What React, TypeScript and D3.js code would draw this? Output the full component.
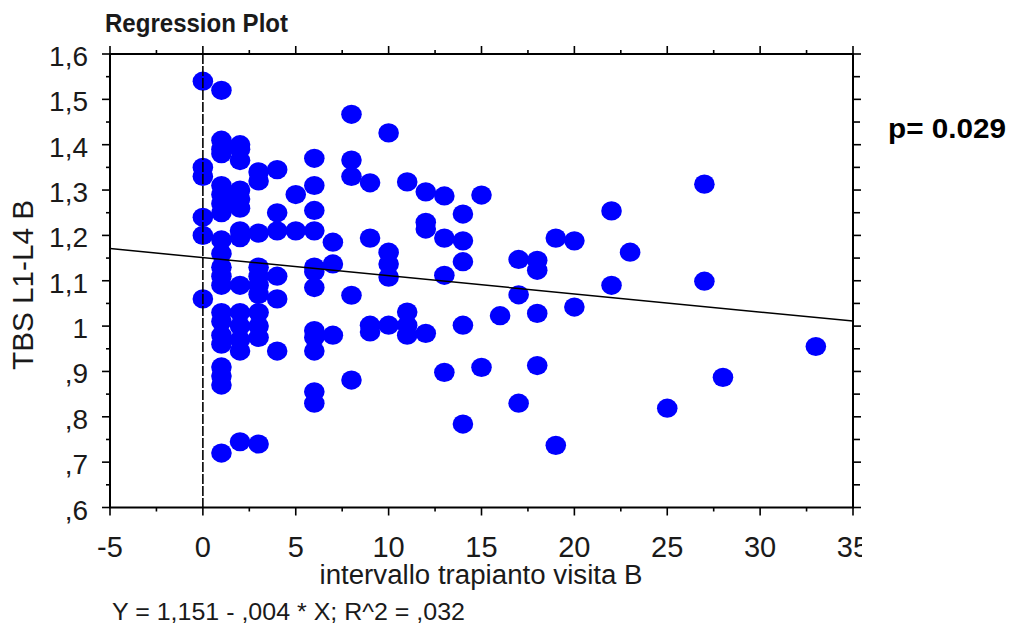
import React from "react";
import * as d3 from "d3";

// interval (x) and TBS (y), one entry per point
const intervallo = [
  0, 0, 0, 0, 0, 0,
  1, 1, 1, 1, 1, 1, 1, 1, 1, 1, 1, 1, 1, 1, 1, 1, 1, 1, 1, 1, 1,
  2, 2, 2, 2, 2, 2, 2, 2, 2, 2, 2, 2, 2, 2,
  3, 3, 3, 3, 3, 3, 3, 3, 3, 3, 3,
  4, 4, 4, 4, 4, 4,
  5, 5,
  6, 6, 6, 6, 6, 6, 6, 6, 6, 6, 6, 6,
  7, 7, 7,
  8, 8, 8, 8, 8,
  9, 9, 9, 9,
  10, 10, 10, 10, 10,
  11, 11, 11, 11,
  12, 12, 12, 12,
  13, 13, 13, 13,
  14, 14, 14, 14, 14,
  15, 15,
  16,
  17, 17, 17,
  18, 18, 18, 18,
  19, 19,
  20, 20,
  22, 22,
  23,
  25,
  27, 27,
  28,
  33,
];

const tbs = [
  1.54, 1.35, 1.33, 1.24, 1.2, 1.06,
  1.52, 1.41, 1.39, 1.38, 1.31, 1.29, 1.27, 1.25, 1.19, 1.16, 1.13, 1.11, 1.09, 1.03, 1.01, 0.98, 0.96, 0.91, 0.89, 0.87, 0.72,
  1.4, 1.39, 1.365, 1.3, 1.28, 1.26, 1.21, 1.195, 1.09, 1.03, 1.0, 0.97, 0.945, 0.745,
  1.34, 1.32, 1.205, 1.13, 1.11, 1.09, 1.07, 1.03, 1.0, 0.975, 0.74,
  1.345, 1.25, 1.21, 1.11, 1.06, 0.945,
  1.29, 1.21,
  1.37, 1.31, 1.255, 1.21, 1.13, 1.12, 1.085, 0.99, 0.975, 0.945, 0.855, 0.83,
  1.185, 1.137, 0.98,
  1.467, 1.366, 1.33, 1.068, 0.881,
  1.316, 1.194, 1.002, 0.987,
  1.426, 1.163, 1.137, 1.108, 1.002,
  1.318, 1.031, 1.002, 0.98,
  1.296, 1.229, 1.214, 0.984,
  1.287, 1.194, 1.112, 0.898,
  1.247, 1.188, 1.142, 1.002, 0.784,
  1.289, 0.909,
  1.023,
  1.147, 1.069, 0.83,
  1.145, 1.123, 1.028, 0.913,
  1.194, 0.737,
  1.188, 1.042,
  1.254, 1.09,
  1.163,
  0.819,
  1.313, 1.099,
  0.887,
  0.955,
];

const xTickValues = [-5, 0, 5, 10, 15, 20, 25, 30, 35];
const yTickValues = [1.6, 1.5, 1.4, 1.3, 1.2, 1.1, 1.0, 0.9, 0.8, 0.7, 0.6];
const yTickLabels = ["1,6", "1,5", "1,4", "1,3", "1,2", "1,1", "1", ",9", ",8", ",7", ",6"];

// Y = 1,151 - ,004 * X
const intercept = 1.151;
const slope = -0.004;

const font = "'Liberation Sans', Arial, sans-serif";
const ink = "#1a1a1a";

export default function App() {
  const left = 110, right = 853, top = 54, bottom = 507.5;
  const x = d3.scaleLinear().domain([-5, 35]).range([left, right]);
  const y = d3.scaleLinear().domain([0.6, 1.6]).range([bottom, top]);

  const xMinor = d3.range(-2.5, 35, 5);
  const yMinor = d3.range(0.65, 1.6, 0.1);

  const regLine = d3
    .line<number>()
    .x((d) => x(d))
    .y((d) => y(intercept + slope * d));

  return (
    <svg
      width={1019}
      height={630}
      style={{ position: "absolute", left: 0, top: 0, background: "#fff" }}
      fontFamily={font}
    >
      <defs>
        <clipPath id="xlab">
          <rect x={0} y={510} width={862} height={60} />
        </clipPath>
        <clipPath id="plot">
          <rect x={left} y={top} width={right - left} height={bottom - top} />
        </clipPath>
      </defs>

      <text x={105} y={31.5} fontSize={25} fontWeight="bold" fill={ink} textLength={183} lengthAdjust="spacingAndGlyphs">
        Regression Plot
      </text>

      {/* points */}
      <g clipPath="url(#plot)">
        {intervallo.map((d, i) => (
          <ellipse key={i} cx={x(d)} cy={y(tbs[i])} rx={10.3} ry={9.6} fill="#0000ff" />
        ))}
        <line
          x1={x(0)}
          x2={x(0)}
          y1={top}
          y2={bottom}
          stroke="#000"
          strokeWidth={1.6}
          strokeDasharray="10,2"
        />
        <path d={regLine([-5, 35]) || ""} fill="none" stroke="#000" strokeWidth={1.5} />
      </g>

      {/* frame */}
      <rect x={left} y={top} width={right - left} height={bottom - top} fill="none" stroke="#000" strokeWidth={2} />

      {/* x ticks bottom and top */}
      {xTickValues.map((v) => (
        <g key={"xt" + v}>
          <line x1={x(v)} x2={x(v)} y1={bottom} y2={bottom + 8} stroke="#000" strokeWidth={1.6} />
          <line x1={x(v)} x2={x(v)} y1={top} y2={top - 8} stroke="#000" strokeWidth={1.6} />
        </g>
      ))}
      {xMinor.map((v) => (
        <g key={"xm" + v}>
          <line x1={x(v)} x2={x(v)} y1={bottom} y2={bottom + 4} stroke="#000" strokeWidth={1.6} />
          <line x1={x(v)} x2={x(v)} y1={top} y2={top - 4} stroke="#000" strokeWidth={1.6} />
        </g>
      ))}

      {/* y ticks left and right */}
      {yTickValues.map((v) => (
        <g key={"yt" + v}>
          <line x1={left} x2={left - 8} y1={y(v)} y2={y(v)} stroke="#000" strokeWidth={1.6} />
          <line x1={right} x2={right + 8} y1={y(v)} y2={y(v)} stroke="#000" strokeWidth={1.6} />
        </g>
      ))}
      {yMinor.map((v) => (
        <g key={"ym" + v}>
          <line x1={left} x2={left - 4} y1={y(v)} y2={y(v)} stroke="#000" strokeWidth={1.6} />
          <line x1={right} x2={right + 7} y1={y(v)} y2={y(v)} stroke="#000" strokeWidth={1.6} />
        </g>
      ))}

      {/* tick labels */}
      <g clipPath="url(#xlab)" fontSize={29} fill={ink} textAnchor="middle">
        {xTickValues.map((v) => (
          <text key={"xl" + v} x={x(v)} y={557}>
            {String(v)}
          </text>
        ))}
      </g>
      <g fontSize={28} fill={ink} textAnchor="end">
        {yTickValues.map((v, i) => (
          <text key={"yl" + v} x={88} y={y(v) + 12}>
            {yTickLabels[i]}
          </text>
        ))}
      </g>

      <text x={481} y={584} fontSize={27} fill={ink} textAnchor="middle" textLength={323} lengthAdjust="spacingAndGlyphs">
        intervallo trapianto visita B
      </text>
      <text
        transform="translate(33,285) rotate(-90)"
        fontSize={29}
        fill={ink}
        textAnchor="middle"
        textLength={170}
        lengthAdjust="spacingAndGlyphs"
      >
        TBS L1-L4 B
      </text>
      <text x={112} y={620} fontSize={24} fill={ink} textLength={353} lengthAdjust="spacingAndGlyphs">
        Y = 1,151 - ,004 * X; R^2 = ,032
      </text>
      <text x={888} y={138} fontSize={28} fontWeight="bold" fill="#000" textLength={118} lengthAdjust="spacingAndGlyphs">
        p= 0.029
      </text>
    </svg>
  );
}
